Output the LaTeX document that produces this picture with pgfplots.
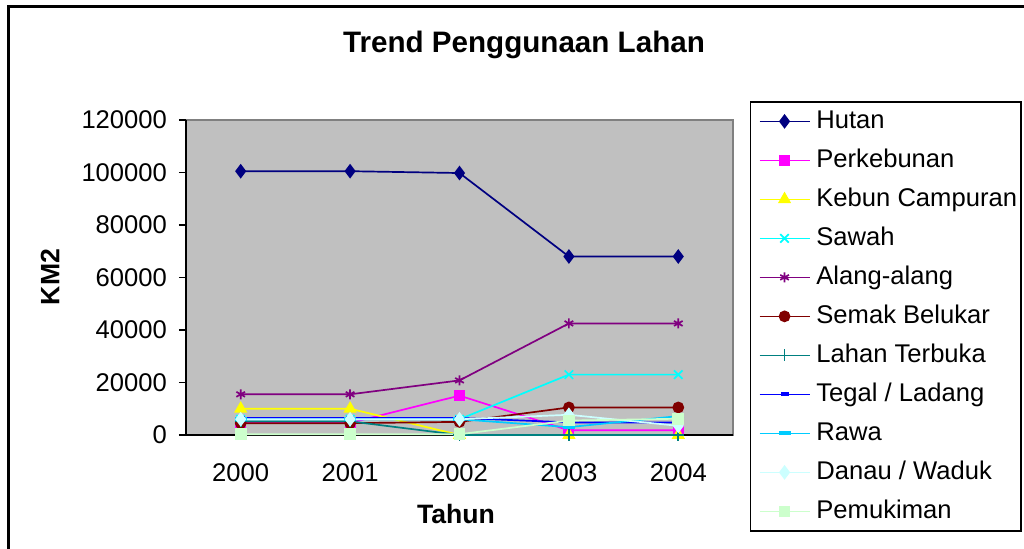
\documentclass[border=0pt]{standalone}
\usepackage{fontspec}
\setmainfont{Liberation Sans}
\usepackage{pgfplots}
\pgfplotsset{compat=1.18}

\definecolor{cHutan}{RGB}{0,0,128}
\definecolor{cKebun}{RGB}{255,0,255}
\definecolor{cCampur}{RGB}{255,255,0}
\definecolor{cSawah}{RGB}{0,255,255}
\definecolor{cAlang}{RGB}{128,0,128}
\definecolor{cSemak}{RGB}{128,0,0}
\definecolor{cLahan}{RGB}{0,128,128}
\definecolor{cTegal}{RGB}{0,0,255}
\definecolor{cRawa}{RGB}{0,204,255}
\definecolor{cDanau}{RGB}{204,255,255}
\definecolor{cPemuk}{RGB}{204,255,204}
\definecolor{plotbg}{RGB}{192,192,192}

\begin{document}
\begin{tikzpicture}
\begin{axis}[
    at={(0pt,0pt)}, anchor=south west,
    scale only axis,
    width=273.5pt, height=157.5pt,
    xmin=-0.5, xmax=4.5,
    ymin=0, ymax=120000,
    xtick={0,1,2,3,4},
    xticklabels={2000,2001,2002,2003,2004},
    minor xtick={-0.5,0.5,1.5,2.5,3.5,4.5},
    ytick={0,20000,40000,60000,80000,100000,120000},
    scaled y ticks=false,
    yticklabel style={/pgf/number format/fixed, /pgf/number format/set thousands separator={}},
    /pgf/number format/assume math mode=true,
    tick label style={font=\fontsize{12.8}{15}\selectfont},
    xticklabel style={yshift=-7.5pt},
    yticklabel style={xshift=-2.5pt},
    tick align=outside,
    major tick length=3.5pt, minor tick length=3.5pt,
    xtick style={draw=none},
    minor x tick style={black, line width=0.6pt},
    ytick style={black, line width=0.6pt},
    axis x line*=bottom, axis y line*=left,
    axis line style={black, line width=0.6pt},
    axis background/.style={fill=plotbg, draw=gray, line width=0.6pt},
    clip=false,
    every axis plot/.append style={line width=0.85pt},
    legend cell align=left,
    legend style={at={(1.031,1.060)}, anchor=north west,
        draw=black, line width=0.75pt, fill=white,
        inner xsep=1pt, inner ysep=0pt, row sep=0pt,
        font=\fontsize{12.8}{15}\selectfont,
        nodes={inner xsep=1pt, inner ysep=3.6pt, text height=9.6pt, text depth=2.7pt}},
    legend image code/.code={
        \path (0pt,0pt) (30pt,0pt);
        \draw[mark repeat=2, mark phase=2] plot coordinates {(3pt,0pt) (15.5pt,0pt) (28pt,0pt)};
    },
]
\addplot[color=cHutan, mark=diamond*, mark size=3pt, mark options={solid, fill=cHutan}]
    coordinates {(0,100500) (1,100500) (2,99800) (3,68000) (4,68000)};
\addlegendentry{Hutan}
\addplot[color=cKebun, mark=square*, mark size=2.3pt, mark options={fill=cKebun}]
    coordinates {(0,4600) (1,4600) (2,15000) (3,1800) (4,1800)};
\addlegendentry{Perkebunan}
\addplot[color=cCampur, mark=triangle*, mark size=3pt, mark options={fill=cCampur}]
    coordinates {(0,10000) (1,10000) (2,0) (3,0) (4,0)};
\addlegendentry{Kebun Campuran}
\addplot[color=cSawah, mark=x, mark size=3pt]
    coordinates {(0,6000) (1,6000) (2,6000) (3,23000) (4,23000)};
\addlegendentry{Sawah}
\addplot[color=cAlang, mark=asterisk, mark size=2.5pt]
    coordinates {(0,15500) (1,15500) (2,20800) (3,42500) (4,42500)};
\addlegendentry{Alang-alang}
\addplot[color=cSemak, mark=*, mark size=2.5pt, mark options={fill=cSemak}]
    coordinates {(0,4500) (1,4500) (2,5000) (3,10500) (4,10500)};
\addlegendentry{Semak Belukar}
\addplot[color=cLahan, mark=+, mark size=3pt]
    coordinates {(0,5200) (1,5200) (2,0) (3,0) (4,0)};
\addlegendentry{Lahan Terbuka}
\addplot[color=cTegal, mark=-, mark size=2pt, mark options={line width=2pt}]
    coordinates {(0,6500) (1,6500) (2,6500) (3,4800) (4,4800)};
\addlegendentry{Tegal / Ladang}
\addplot[color=cRawa, mark=-, mark size=3pt, mark options={line width=2pt}]
    coordinates {(0,6000) (1,6000) (2,6000) (3,3000) (4,7200)};
\addlegendentry{Rawa}
\addplot[color=cDanau, mark=diamond*, mark size=3pt, mark options={fill=cDanau}]
    coordinates {(0,6000) (1,6000) (2,6000) (3,7700) (4,3500)};
\addlegendentry{Danau / Waduk}
\addplot[color=cPemuk, mark=square*, mark size=2.5pt, mark options={fill=cPemuk}]
    coordinates {(0,300) (1,300) (2,300) (3,5500) (4,6200)};
\addlegendentry{Pemukiman}
\end{axis}
\node[font=\bfseries\fontsize{14.8}{17}\selectfont] at (169pt,195pt) {Trend Penggunaan Lahan};
\node[font=\bfseries\fontsize{13.3}{15}\selectfont, rotate=90] at (-68pt,79pt) {KM2};
\node[font=\bfseries\fontsize{13.3}{15}\selectfont] at (135pt,-39.5pt) {Tahun};
\draw[line width=1.25pt] (-88.75pt,-60pt) -- (-88.75pt,214.25pt) -- (425pt,214.25pt);
\pgfresetboundingbox
\useasboundingbox (-93pt,-56.5pt) rectangle (419pt,217.5pt);
\end{tikzpicture}
\end{document}
